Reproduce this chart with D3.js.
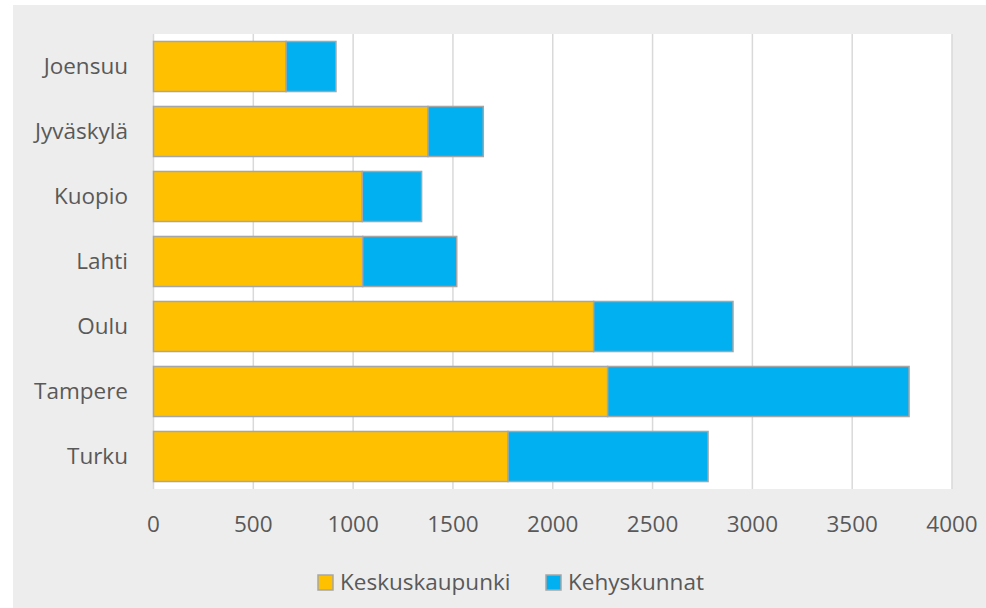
<!DOCTYPE html>
<meta charset="utf-8">
<title>Keskuskaupunki ja kehyskunnat</title>

<script src="https://cdn.jsdelivr.net/npm/d3@7"></script>

<style>
  body {
    margin: 0;
    background: #ffffff;
  }

  text {
    font-family: "Open Sans", sans-serif;
    fill: #595959;
  }
</style>

<div id="chart"></div>

<script>

  // data
  var cities = ["Joensuu", "Jyväskylä", "Kuopio", "Lahti", "Oulu", "Tampere", "Turku"];
  var keskus = [664, 1375, 1046, 1048, 2205, 2275, 1776];
  var kehys = [250, 277, 297, 471, 698, 1510, 1002];
  var seriesNames = ["Keskuskaupunki", "Kehyskunnat"];
  var xTicks = [0, 500, 1000, 1500, 2000, 2500, 3000, 3500, 4000];

  var width = 986,
    height = 608;

  var colors = ["#ffc000", "#00b0f0"];

  var svg = d3.select("#chart").append("svg")
    .attr("width", width)
    .attr("height", height);

  // grey chart area
  svg.append("rect")
    .attr("x", 13)
    .attr("y", 5)
    .attr("width", width - 13)
    .attr("height", height - 5)
    .attr("fill", "#ededed");

  var x = d3.scaleLinear()
    .domain([0, 4000])
    .range([153.5, 952]);

  var y = d3.scaleBand()
    .domain(cities)
    .range([34, 489])
    .paddingInner(0.23)
    .paddingOuter(0.115);

  // white plot area
  svg.append("rect")
    .attr("x", x(0))
    .attr("y", 34)
    .attr("width", x(4000) - x(0))
    .attr("height", 489 - 34)
    .attr("fill", "#ffffff");

  // vertical gridlines
  svg.append("g")
    .selectAll("line")
    .data(xTicks)
    .enter()
    .append("line")
    .attr("x1", function (d) { return x(d); })
    .attr("x2", function (d) { return x(d); })
    .attr("y1", 34)
    .attr("y2", 489)
    .attr("stroke", "#d9d9d9")
    .attr("stroke-width", 1.5);

  // x tick labels
  svg.append("g")
    .selectAll("text")
    .data(xTicks)
    .enter()
    .append("text")
    .attr("x", function (d) { return x(d); })
    .attr("y", 532)
    .attr("text-anchor", "middle")
    .style("font-size", "22.5px")
    .text(function (d) { return d; });

  // y category labels
  svg.append("g")
    .selectAll("text")
    .data(cities)
    .enter()
    .append("text")
    .attr("x", 128)
    .attr("y", function (d) { return y(d) + y.bandwidth() / 2; })
    .attr("dy", "0.35em")
    .attr("text-anchor", "end")
    .style("font-size", "22.5px")
    .text(function (d) { return d; });

  // stacked bars
  var rows = cities.map(function (c, i) {
    return { city: c, parts: [[0, keskus[i]], [keskus[i], keskus[i] + kehys[i]]] };
  });

  var bars = svg.append("g")
    .selectAll("g")
    .data(rows)
    .enter()
    .append("g");

  bars.selectAll("rect")
    .data(function (d) { return d.parts.map(function (p, k) { return { city: d.city, p: p, k: k }; }); })
    .enter()
    .append("rect")
    .attr("x", function (d) { return x(d.p[0]); })
    .attr("y", function (d) { return y(d.city); })
    .attr("width", function (d) { return x(d.p[1]) - x(d.p[0]); })
    .attr("height", y.bandwidth())
    .attr("fill", function (d) { return colors[d.k]; })
    .attr("stroke", "#a6a6a6")
    .attr("stroke-width", 1.5);

  // legend
  var legendX = [318, 546];
  var legend = svg.append("g")
    .selectAll("g")
    .data(seriesNames)
    .enter()
    .append("g")
    .attr("transform", function (d, i) { return "translate(" + legendX[i] + ",575)"; });

  legend.append("rect")
    .attr("width", 15)
    .attr("height", 15)
    .attr("fill", function (d, i) { return colors[i]; })
    .attr("stroke", "#a6a6a6")
    .attr("stroke-width", 1.5);

  legend.append("text")
    .attr("x", 22)
    .attr("y", 7.5)
    .attr("dy", "0.35em")
    .style("font-size", "22.5px")
    .text(function (d) { return d; });

</script>
